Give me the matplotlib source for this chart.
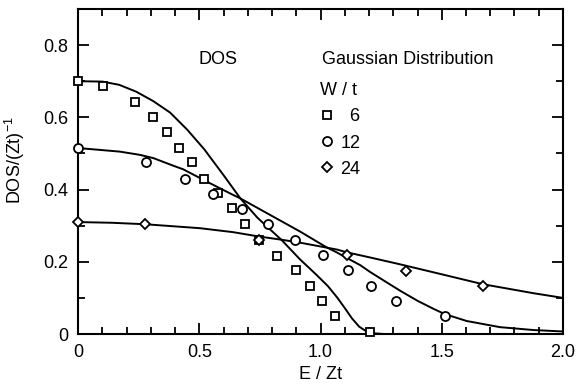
import numpy as np
import matplotlib
matplotlib.use("Agg")
import matplotlib.pyplot as plt
from matplotlib.lines import Line2D

plt.rcParams['font.family'] = ['Liberation Sans', 'DejaVu Sans']
plt.rcParams['mathtext.default'] = 'regular'

# data points, E/Zt and DOS/(Zt)^-1
e_w6 = [0, 0.104, 0.236, 0.311, 0.368, 0.415, 0.470, 0.521, 0.576, 0.634, 0.690,
        0.745, 0.819, 0.899, 0.957, 1.008, 1.060, 1.204]
d_w6 = [0.700, 0.688, 0.643, 0.602, 0.560, 0.516, 0.475, 0.429, 0.390, 0.348, 0.305,
        0.260, 0.217, 0.177, 0.134, 0.092, 0.050, 0.006]

e_w12 = [0, 0.280, 0.441, 0.558, 0.675, 0.785, 0.895, 1.012, 1.115, 1.208, 1.310, 1.513]
d_w12 = [0.515, 0.475, 0.429, 0.389, 0.346, 0.304, 0.260, 0.220, 0.176, 0.134, 0.092, 0.050]

e_w24 = [0, 0.276, 0.745, 1.110, 1.353, 1.669]
d_w24 = [0.310, 0.304, 0.260, 0.220, 0.175, 0.134]

# solid curves (gaussian DOS)
ce_w6 = [0, 0.10, 0.17, 0.24, 0.31, 0.38, 0.45, 0.52, 0.60, 0.67, 0.74, 0.78, 0.84,
         0.915, 0.98, 1.03, 1.07, 1.10, 1.13, 1.16, 1.19, 1.22, 1.26]
cd_w6 = [0.700, 0.699, 0.690, 0.671, 0.645, 0.613, 0.566, 0.512, 0.440, 0.375, 0.322,
         0.297, 0.260, 0.207, 0.166, 0.133, 0.100, 0.072, 0.043, 0.020, 0.007, 0.002, 0.0]

ce_w12 = [0, 0.173, 0.256, 0.311, 0.393, 0.434, 0.531, 0.640, 0.668, 0.778, 0.915, 0.970,
          1.025, 1.067, 1.110, 1.163, 1.204, 1.273, 1.328, 1.400, 1.465, 1.513, 1.603,
          1.740, 1.878, 2.0]
cd_w12 = [0.515, 0.505, 0.496, 0.487, 0.466, 0.456, 0.422, 0.385, 0.376, 0.335, 0.284, 0.262,
          0.240, 0.226, 0.210, 0.191, 0.172, 0.143, 0.120, 0.092, 0.070, 0.055, 0.036,
          0.019, 0.011, 0.007]

ce_w24 = [0, 0.14, 0.276, 0.503, 0.640, 0.746, 0.840, 0.915, 1.067, 1.110, 1.204, 1.328,
          1.465, 1.669, 1.878, 2.0]
cd_w24 = [0.310, 0.308, 0.304, 0.293, 0.282, 0.270, 0.261, 0.253, 0.234, 0.226, 0.212, 0.193,
          0.171, 0.138, 0.113, 0.100]

xticks = [0, 0.5, 1.0, 1.5, 2.0]
xticklabels = ['0', '0.5', '1.0', '1.5', '2.0']
yticks = [0, 0.2, 0.4, 0.6, 0.8]
yticklabels = ['0', '0.2', '0.4', '0.6', '0.8']

fig = plt.figure(figsize=(5.81, 3.86), dpi=100)
ax = fig.add_axes([0.1343, 0.1347, 0.8347, 0.842])

lw = 1.4
ax.plot(ce_w6, cd_w6, color='black', lw=lw)
ax.plot(ce_w12, cd_w12, color='black', lw=lw)
ax.plot(ce_w24, cd_w24, color='black', lw=lw)

mk = dict(linestyle='none', mfc='white', mec='black', mew=1.3, clip_on=False, zorder=5)
ax.plot(e_w6, d_w6, marker='s', ms=5.5, **mk)
ax.plot(e_w12, d_w12, marker='o', ms=6.5, **mk)
ax.plot(e_w24, d_w24, marker='D', ms=5.5, **mk)

ax.set_xlim(0, 2.0)
ax.set_ylim(0, 0.9)
ax.set_xticks(xticks)
ax.set_xticklabels(xticklabels)
ax.set_yticks(yticks)
ax.set_yticklabels(yticklabels)
ax.set_xticks(np.arange(0, 2.01, 0.1), minor=True)
ax.set_yticks(np.arange(0, 0.91, 0.1), minor=True)
ax.tick_params(which='both', direction='in', top=True, right=True, width=1.3,
               labelsize=13, pad=7)
ax.tick_params(which='major', length=8)
ax.tick_params(which='minor', length=5)
for s in ax.spines.values():
    s.set_linewidth(1.5)

ax.set_xlabel('E / Zt', fontsize=13, labelpad=4)
ax.set_ylabel('DOS/(Zt)$^{-1}$', fontsize=13)
ax.yaxis.set_label_coords(-0.105, 0.535)

ax.text(0.249, 0.845, 'DOS', transform=ax.transAxes, fontsize=13, va='center')
ax.text(0.503, 0.845, 'Gaussian Distribution', transform=ax.transAxes, fontsize=13,
        va='center')

handles = [Line2D([], [], marker='s', ms=5.5, **mk),
           Line2D([], [], marker='o', ms=6.5, **mk),
           Line2D([], [], marker='D', ms=5.5, **mk)]
leg = ax.legend(handles, ['\u20076', '12', '24'], title='W / t', loc='upper left',
                bbox_to_anchor=(0.498, 0.774), frameon=False, fontsize=13,
                title_fontsize=13, alignment='left', handlelength=0.8,
                handletextpad=0.35, labelspacing=0.5, borderpad=0, borderaxespad=0)

fig.savefig('out.png', dpi=100)
